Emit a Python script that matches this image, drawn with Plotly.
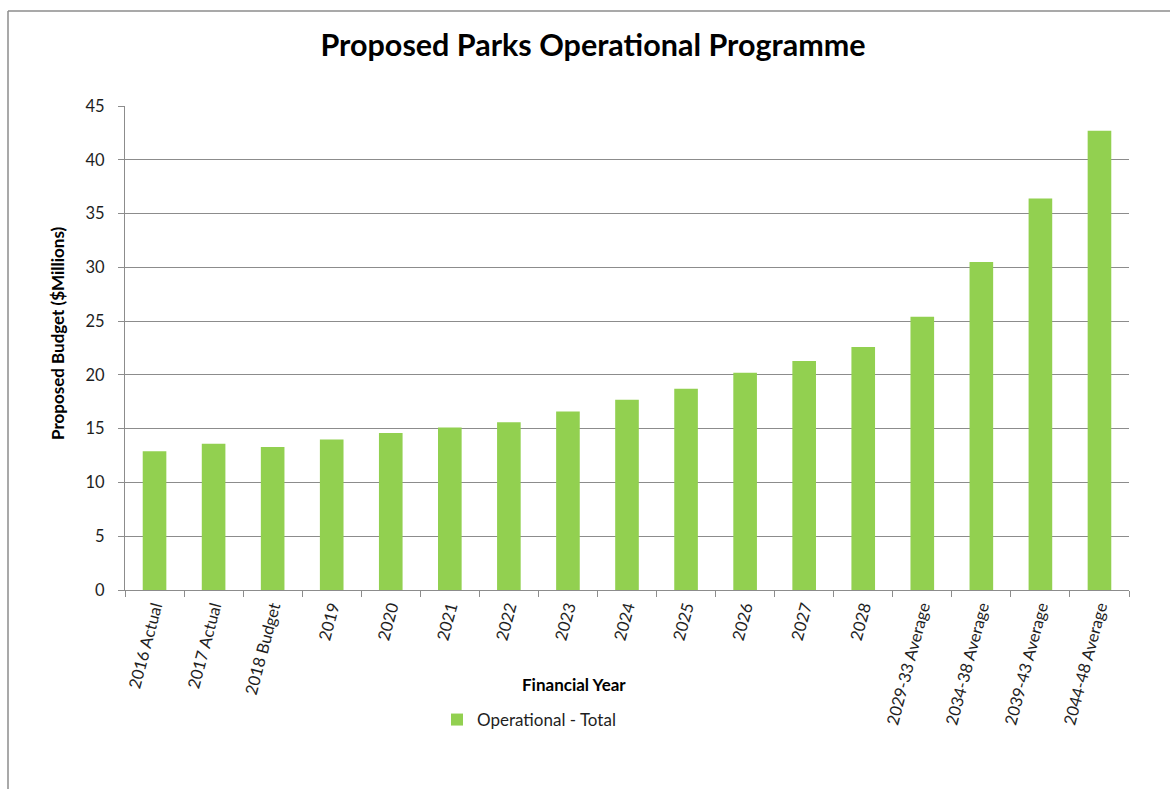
import plotly.graph_objects as go

# Financial years and the proposed operational budget for each ($ millions)
categories = [
    "2016 Actual", "2017 Actual", "2018 Budget", "2019", "2020", "2021",
    "2022", "2023", "2024", "2025", "2026", "2027", "2028",
    "2029-33 Average", "2034-38 Average", "2039-43 Average", "2044-48 Average",
]
operational_total = [
    12.9, 13.6, 13.3, 14.0, 14.6, 15.1, 15.6, 16.6, 17.7, 18.7,
    20.2, 21.3, 22.6, 25.4, 30.5, 36.4, 42.7,
]
y_ticks = [0, 5, 10, 15, 20, 25, 30, 35, 40, 45]

W, H = 1170, 789
L, R, T, B = 125, 1129, 106, 590  # plot area edges in pixels
FONT = "Lato"
GREEN = "#92D050"
GRID = "#8c8c8c"
TEXT = "#1e1e1e"


def px_x(p):
    return (p - L) / (R - L)


def px_y(p):
    return (B - p) / (B - T)


fig = go.Figure()
fig.add_trace(go.Bar(
    x=categories,
    y=operational_total,
    name="Operational - Total",
    marker=dict(color=GREEN, line=dict(width=0)),
))

fig.update_layout(
    width=W,
    height=H,
    margin=dict(l=L, r=W - R, t=T, b=H - B, pad=0),
    paper_bgcolor="white",
    plot_bgcolor="white",
    bargap=0.6,
    font=dict(family=FONT, color=TEXT, size=15),
    title=dict(
        text="<b>Proposed Parks Operational Programme</b>",
        font=dict(family=FONT, size=30.5, color="black"),
        x=593 / W, xanchor="center",
        y=1 - 45 / H, yanchor="middle", yref="container",
    ),
    showlegend=True,
    legend=dict(
        orientation="h",
        x=px_x(437), xanchor="left",
        y=px_y(720), yanchor="middle",
        font=dict(family=FONT, size=17, color=TEXT),
        itemwidth=30,
        bgcolor="rgba(0,0,0,0)",
    ),
    xaxis=dict(
        type="category",
        tickson="boundaries",
        ticks="outside",
        ticklen=6,
        tickcolor=GRID,
        showline=True,
        linecolor=GRID,
        showgrid=False,
        tickangle=-75,
        tickfont=dict(family=FONT, size=16.5, color=TEXT),
    ),
    yaxis=dict(
        range=[0, 45],
        tickvals=y_ticks,
        ticks="outside",
        ticklen=6,
        tickcolor=GRID,
        ticklabelstandoff=10,
        showline=True,
        linecolor=GRID,
        showgrid=True,
        gridcolor=GRID,
        gridwidth=1,
        zeroline=False,
        tickfont=dict(family=FONT, size=16.5, color=TEXT),
    ),
    annotations=[
        dict(
            text="<b>Proposed Budget ($Millions)</b>",
            xref="paper", yref="paper",
            x=px_x(57), y=px_y(333),
            xanchor="center", yanchor="middle",
            textangle=-90, showarrow=False,
            font=dict(family=FONT, size=17, color="black"),
        ),
        dict(
            text="<b>Financial Year</b>",
            xref="paper", yref="paper",
            x=px_x(574), y=px_y(684),
            xanchor="center", yanchor="middle",
            showarrow=False,
            font=dict(family=FONT, size=17, color="black"),
        ),
    ],
    shapes=[
        # outer chart frame (left and top edges)
        dict(type="line", xref="paper", yref="paper",
             x0=px_x(8), x1=px_x(8), y0=px_y(11), y1=px_y(H + 5),
             line=dict(color=GRID, width=1.5)),
        dict(type="line", xref="paper", yref="paper",
             x0=px_x(8), x1=px_x(W + 5), y0=px_y(11), y1=px_y(11),
             line=dict(color=GRID, width=1.5)),
    ],
)

fig.write_html("out.html")
